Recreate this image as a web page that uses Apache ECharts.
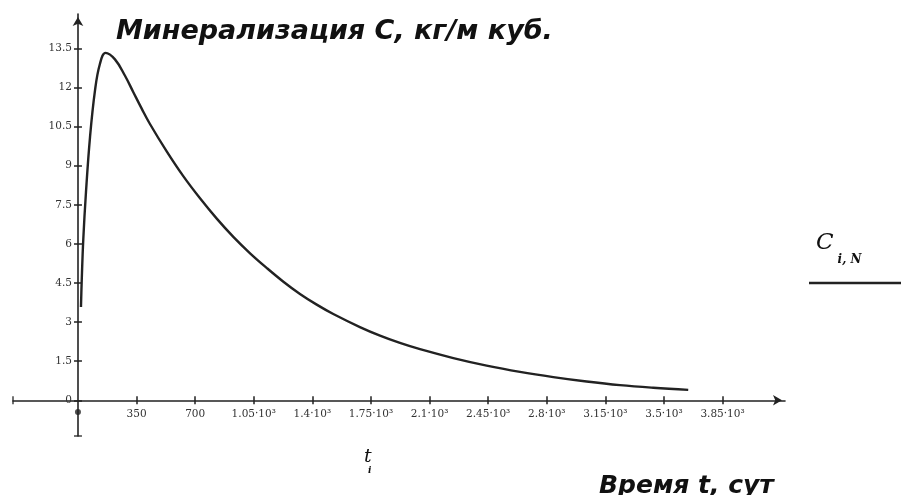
<!DOCTYPE html>
<html><head><meta charset="utf-8">
<script src="https://cdn.jsdelivr.net/npm/echarts@6/dist/echarts.min.js"></script>
<style>html,body{margin:0;padding:0;background:#fff}#c{width:901px;height:495px}</style>
</head><body><div id="c"></div>
<script>
// Data
const timeDays = [18, 22, 32, 48, 72, 102, 131, 165, 221, 281, 330, 380, 430, 530, 629, 729, 829, 928, 1028, 1127, 1227, 1326, 1426, 1525, 1684, 1804, 1923, 2043, 2242, 2441, 2640, 2839, 3038, 3237, 3436, 3645];
const mineralization = [3.58, 4.5, 6.2, 8.0, 10.1, 11.9, 12.9, 13.33, 13.08, 12.45, 11.83, 11.2, 10.6, 9.55, 8.6, 7.75, 6.97, 6.27, 5.64, 5.08, 4.55, 4.08, 3.67, 3.31, 2.81, 2.48, 2.2, 1.96, 1.62, 1.33, 1.09, 0.89, 0.72, 0.58, 0.48, 0.40];
const xTickValues = [350, 700, 1050, 1400, 1750, 2100, 2450, 2800, 3150, 3500, 3850];
const xTickLabels = ['350', '700', '1.05·10³', '1.4·10³', '1.75·10³', '2.1·10³', '2.45·10³', '2.8·10³', '3.15·10³', '3.5·10³', '3.85·10³'];
const yTickValues = [0, 1.5, 3, 4.5, 6, 7.5, 9, 10.5, 12, 13.5];
const yTickLabels = ['0', '1.5', '3', '4.5', '6', '7.5', '9', '10.5', '12', '13.5'];
const originMarker = [[0, -0.45]];
const xRange = [-388, 4223];
const yRange = [-1.37, 14.82];

const ink = '#222';
const serif = '"DejaVu Serif", "Liberation Serif", serif';
const heavy = '"DejaVu Sans", Verdana, sans-serif';

const G = {left: 13, top: 14, width: 772, height: 422};
// pixel offsets that move the axes onto the zero lines
const xZeroFromBottom = G.height * (0 - yRange[0]) / (yRange[1] - yRange[0]);
const yZeroFromLeft = G.width * (0 - xRange[0]) / (xRange[1] - xRange[0]);

const chart = echarts.init(document.getElementById('c'), null, {renderer: 'canvas'});

const tickStyle = {color: ink, width: 1.5};
const xMain = {
  type: 'value', min: xRange[0], max: xRange[1], position: 'bottom', offset: -xZeroFromBottom,
  axisLine: {show: true, onZero: false, lineStyle: {color: ink, width: 1.6},
    symbol: ['none', 'arrow'], symbolSize: [8, 9], symbolOffset: [0, -3]},
  axisTick: {show: true, length: 4, lineStyle: tickStyle, customValues: xTickValues},
  axisLabel: {show: true, margin: 8, color: '#333', fontFamily: serif, fontSize: 10.5,
    customValues: xTickValues,
    formatter: v => { const i = xTickValues.indexOf(v); return i >= 0 ? xTickLabels[i] : ''; }},
  splitLine: {show: false}
};
const xTicksInside = {
  type: 'value', min: xRange[0], max: xRange[1], position: 'bottom', offset: -xZeroFromBottom,
  axisLine: {show: false, onZero: false},
  axisTick: {show: true, inside: true, length: 4, lineStyle: tickStyle, customValues: xTickValues},
  axisLabel: {show: false}, splitLine: {show: false}
};
const yMain = {
  type: 'value', min: yRange[0], max: yRange[1], position: 'left', offset: -yZeroFromLeft,
  axisLine: {show: true, onZero: false, lineStyle: {color: ink, width: 1.6},
    symbol: ['none', 'arrow'], symbolSize: [8, 9], symbolOffset: [0, -3]},
  axisTick: {show: true, length: 4, lineStyle: tickStyle, customValues: yTickValues},
  axisLabel: {show: true, margin: 6, color: '#333', fontFamily: serif, fontSize: 10.5,
    customValues: yTickValues,
    formatter: v => { const i = yTickValues.indexOf(v); return i >= 0 ? yTickLabels[i] : ''; }},
  splitLine: {show: false}
};
const yTicksInside = {
  type: 'value', min: yRange[0], max: yRange[1], position: 'left', offset: -yZeroFromLeft,
  axisLine: {show: false, onZero: false},
  axisTick: {show: true, inside: true, length: 4, lineStyle: tickStyle, customValues: yTickValues},
  axisLabel: {show: false}, splitLine: {show: false}
};

chart.setOption({
  animation: false,
  backgroundColor: '#fff',
  grid: {left: G.left, top: G.top, width: G.width, height: G.height, containLabel: false, outerBoundsMode: 'none'},
  xAxis: [xMain, xTicksInside],
  yAxis: [yMain, yTicksInside],
  series: [
    {
      name: 'C_i,N', type: 'line', xAxisIndex: 0, yAxisIndex: 0,
      data: timeDays.map((t, i) => [t, mineralization[i]]),
      smooth: 0.4, showSymbol: false, symbol: 'none',
      lineStyle: {color: ink, width: 2.4}
    },
    {
      type: 'scatter', xAxisIndex: 0, yAxisIndex: 0, data: originMarker,
      symbol: 'circle', symbolSize: 6, itemStyle: {color: ink}, silent: true
    },
    {
      type: 'scatter', xAxisIndex: 0, yAxisIndex: 0, data: [[xRange[0], 0]],
      symbol: 'rect', symbolSize: [1.6, 8], itemStyle: {color: ink}, silent: true
    },
    {
      type: 'scatter', xAxisIndex: 0, yAxisIndex: 0, data: [[0, yRange[0]]],
      symbol: 'rect', symbolSize: [8, 1.6], itemStyle: {color: ink}, silent: true
    }
  ],
  graphic: [
    {type: 'text', left: 116, top: 18, style: {text: 'Минерализация С, кг/м куб.', fill: '#111',
      font: 'italic 900 27px ' + heavy}},
    {type: 'text', left: 599, top: 474, style: {text: 'Время t, сут', fill: '#111',
      font: 'italic 900 25px ' + heavy}},
    {type: 'text', left: 364, top: 448, style: {
      text: '{t|t}\n{s|i}', rich: {
        t: {fontFamily: serif, fontStyle: 'italic', fontSize: 19, fill: '#111', lineHeight: 16},
        s: {fontFamily: serif, fontStyle: 'italic', fontWeight: 'bold', fontSize: 9, fill: '#111', padding: [0, 0, 0, 4], lineHeight: 10}
      }}},
    {type: 'text', left: 816, top: 232, style: {
      text: '{c|C}{s|i, N}', rich: {
        c: {fontFamily: serif, fontStyle: 'italic', fontSize: 23, fill: '#111', verticalAlign: 'top'},
        s: {fontFamily: serif, fontStyle: 'italic', fontWeight: 'bold', fontSize: 12, fill: '#111', padding: [22, 0, 0, 4]}
      }}},
    {type: 'line', shape: {x1: 809, y1: 283, x2: 901, y2: 283}, style: {stroke: ink, lineWidth: 2.5}}
  ]
});
</script></body></html>
